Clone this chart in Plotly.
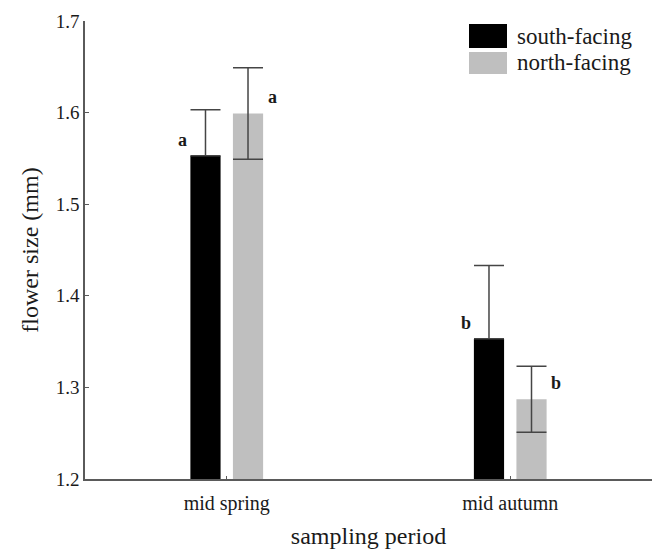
import plotly.graph_objects as go

categories = ["mid spring", "mid autumn"]
south_values = [1.553, 1.353]
south_errors = [0.050, 0.080]
north_values = [1.599, 1.287]
north_errors = [0.050, 0.036]
south_letters = ["a", "b"]
north_letters = ["a", "b"]
y_ticks = [1.2, 1.3, 1.4, 1.5, 1.6, 1.7]

W, H = 654, 549
ML, MR, MT, MB = 85, 2, 21, 70
PW, PH = W - ML - MR, H - MT - MB

FONT = "Liberation Serif"
AX = "#5a5a5a"
TXT = "#1a1a1a"

def px_x(x):
    return (x - ML) / PW

def px_y(y):
    return (H - MB - y) / PH

fig = go.Figure()
fig.add_trace(go.Bar(
    x=categories, y=south_values, name="south-facing",
    marker=dict(color="#000000", line=dict(width=0)),
    error_y=dict(type="data", symmetric=False, array=south_errors,
                 arrayminus=[0 for _ in south_errors],
                 color="#454545", thickness=1.5, width=15),
    showlegend=False,
))
fig.add_trace(go.Bar(
    x=categories, y=north_values, name="north-facing",
    marker=dict(color="#bfbfbf", line=dict(width=0)),
    error_y=dict(type="data", array=north_errors, color="#454545", thickness=1.5, width=15),
    showlegend=False,
))

annotations = []
for i, (v, t) in enumerate(zip(south_values, south_letters)):
    annotations.append(dict(x=i - 0.157, y=v + 0.017, xref="x", yref="y", text=f"<b>{t}</b>",
                            showarrow=False, font=dict(family=FONT, size=18, color=TXT),
                            xanchor="center", yanchor="middle"))
for i, (v, t) in enumerate(zip(north_values, north_letters)):
    annotations.append(dict(x=i + 0.160, y=v + 0.018, xref="x", yref="y", text=f"<b>{t}</b>",
                            showarrow=False, font=dict(family=FONT, size=18, color=TXT),
                            xanchor="center", yanchor="middle"))

# legend drawn manually
shapes = [
    dict(type="rect", xref="paper", yref="paper", x0=px_x(469), x1=px_x(507),
         y0=px_y(48), y1=px_y(24), fillcolor="#000000", line=dict(width=0)),
    dict(type="rect", xref="paper", yref="paper", x0=px_x(469), x1=px_x(507),
         y0=px_y(74), y1=px_y(52), fillcolor="#bfbfbf", line=dict(width=0)),
]
annotations.append(dict(x=px_x(515), y=px_y(36), xref="paper", yref="paper", text="south-facing",
                        showarrow=False, xanchor="left", yanchor="middle",
                        font=dict(family=FONT, size=23, color=TXT)))
annotations.append(dict(x=px_x(515), y=px_y(63), xref="paper", yref="paper", text="north-facing",
                        showarrow=False, xanchor="left", yanchor="middle",
                        font=dict(family=FONT, size=23, color=TXT)))

fig.update_layout(
    width=W, height=H,
    margin=dict(l=ML, r=MR, t=MT, b=MB, pad=0),
    paper_bgcolor="white", plot_bgcolor="white",
    barmode="group", bargap=0.70, bargroupgap=0.29,
    font=dict(family=FONT, color=TXT),
    shapes=shapes, annotations=annotations,
    xaxis=dict(
        range=[-0.5, 1.5], showgrid=False, zeroline=False,
        showline=True, linecolor=AX, linewidth=1.5,
        ticks="inside", ticklen=3, tickcolor=AX, tickwidth=1,
        ticklabelstandoff=5,
        tickfont=dict(family=FONT, size=20, color=TXT),
        title=dict(text="sampling period", font=dict(family=FONT, size=24, color=TXT), standoff=16),
    ),
    yaxis=dict(
        range=[1.2, 1.7], tickvals=y_ticks, ticktext=[f"{t:.1f}" for t in y_ticks],
        showgrid=False, zeroline=False,
        showline=True, linecolor=AX, linewidth=1.5,
        ticks="inside", ticklen=4, tickcolor=AX, tickwidth=1,
        tickfont=dict(family=FONT, size=19, color=TXT),
        title=dict(text="flower size (mm)", font=dict(family=FONT, size=24, color=TXT), standoff=10),
    ),
)

fig.write_html("out.html")
